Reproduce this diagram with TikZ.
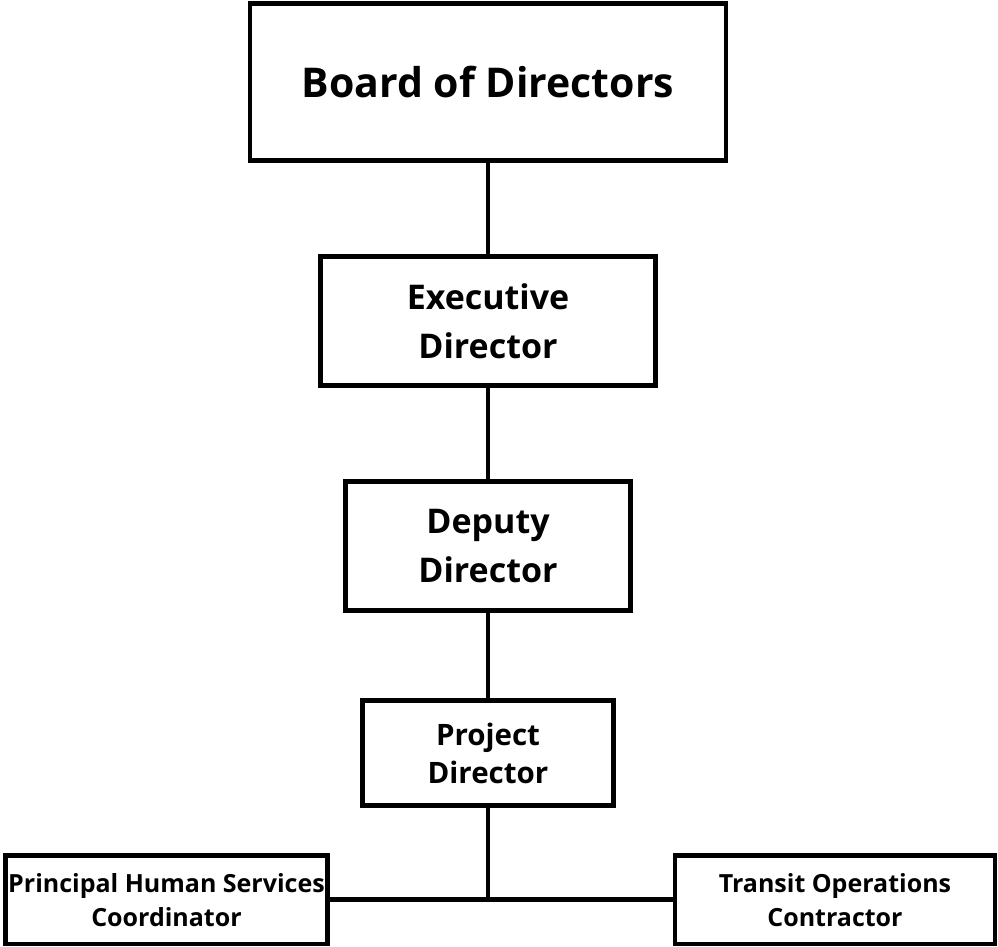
\documentclass[tikz,border=0pt]{standalone}
\usepackage{fontspec}
\setmainfont{Open Sans}
\begin{document}
\begin{tikzpicture}[x=1pt,y=-1pt,
  orgbox/.style={draw=black,line width=4.8pt,fill=white,align=center,inner sep=0pt,font=\bfseries},
  conn/.style={line width=4.8pt,draw=black}]
\useasboundingbox (0,0) rectangle (998,947);
\node[orgbox,minimum width=476pt,minimum height=157pt,font=\bfseries\fontsize{41}{48}\selectfont] (board) at (488,82) {Board of Directors};
\node[orgbox,minimum width=335pt,minimum height=129pt,font=\bfseries\fontsize{34}{49}\selectfont] (exec) at (488,321) {Executive\\Director};
\node[orgbox,minimum width=285pt,minimum height=129pt,font=\bfseries\fontsize{34}{49}\selectfont] (dep) at (488,546) {Deputy\\Director};
\node[orgbox,minimum width=251pt,minimum height=105pt,font=\bfseries\fontsize{29.5}{38}\selectfont] (proj) at (488,753) {Project\\Director};
\node[orgbox,minimum width=322pt,minimum height=88.5pt,font=\bfseries\fontsize{25}{34}\selectfont] (prin) at (166.5,899.75) {Principal Human Services\\Coordinator};
\node[orgbox,minimum width=320pt,minimum height=88.5pt,font=\bfseries\fontsize{25}{34}\selectfont] (trans) at (835,899.75) {Transit Operations\\Contractor};
\draw[conn] (board.south) -- (exec.north);
\draw[conn] (exec.south) -- (dep.north);
\draw[conn] (dep.south) -- (proj.north);
\draw[conn] (prin.east) -- (trans.west);
\draw[conn] (proj.south) -- (proj.south |- prin.east);
\end{tikzpicture}
\end{document}
